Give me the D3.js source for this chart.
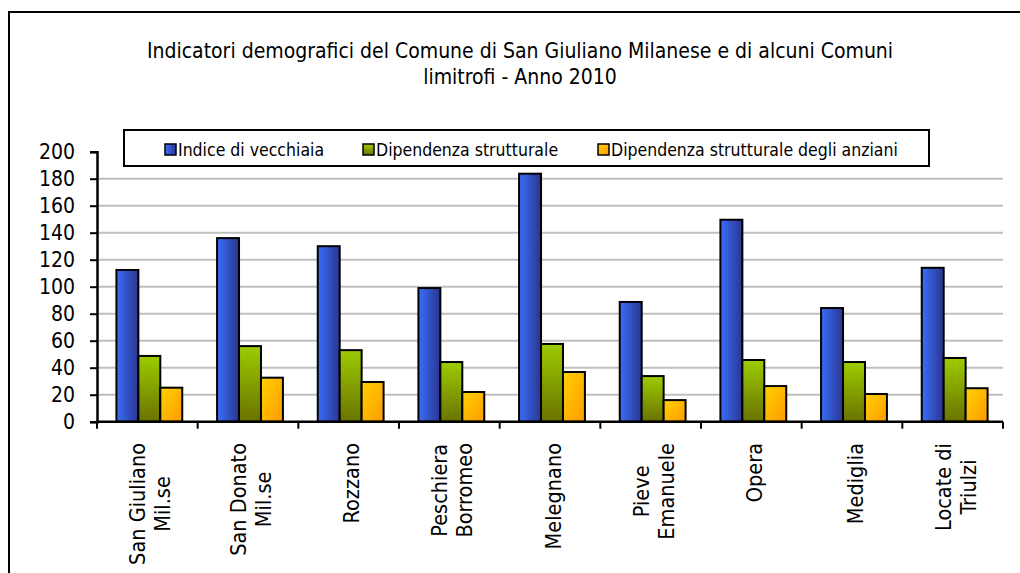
<!DOCTYPE html>
<html><head><meta charset="utf-8">
<script src="https://cdn.jsdelivr.net/npm/d3@7"></script>
<style>body{margin:0;background:#fff;} svg{display:block;}</style>
</head><body>
<svg id="c" width="1020" height="573"></svg>
<script>
const categories = [["San Giuliano","Mil.se"],["San Donato","Mil.se"],["Rozzano"],["Peschiera","Borromeo"],["Melegnano"],["Pieve","Emanuele"],["Opera"],["Mediglia"],["Locate di","Triulzi"]];
const seriesNames = ["Indice di vecchiaia","Dipendenza strutturale","Dipendenza strutturale degli anziani"];
const vecchiaia = [112.4,136,130,99,183.7,88.7,149.6,84.2,114];
const dipendenza = [48.7,56,53,44.2,57.6,33.8,45.7,44.2,47.2];
const dipAnziani = [25.2,32.6,29.4,22,36.8,16,26.4,20.5,24.8];
const yTicks = [0,20,40,60,80,100,120,140,160,180,200];
const titleLines = ["Indicatori demografici del Comune di San Giuliano Milanese e di alcuni Comuni","limitrofi - Anno 2010"];

(function(){
const series = [vecchiaia, dipendenza, dipAnziani];
const svg = d3.select("#c");
const defs = svg.append("defs");
const gB = defs.append("linearGradient").attr("id","gB").attr("x1","0").attr("x2","1").attr("y1","0").attr("y2","0");
gB.append("stop").attr("offset","0").attr("stop-color","#3a6ef8");
gB.append("stop").attr("offset","1").attr("stop-color","#2a3590");
const gG = defs.append("linearGradient").attr("id","gG").attr("x1","0").attr("x2","0").attr("y1","0").attr("y2","1");
gG.append("stop").attr("offset","0").attr("stop-color","#9ccc00");
gG.append("stop").attr("offset","1").attr("stop-color","#6a7200");
const gO = defs.append("linearGradient").attr("id","gO").attr("x1","0").attr("x2","1").attr("y1","0").attr("y2","1");
gO.append("stop").attr("offset","0").attr("stop-color","#ffd200");
gO.append("stop").attr("offset","1").attr("stop-color","#ff9a00");
const fills = ["url(#gB)","url(#gG)","url(#gO)"];

svg.append("rect").attr("x",9).attr("y",12).attr("width",1030).attr("height",600)
  .attr("fill","none").attr("stroke","#000").attr("stroke-width",2);

const fontMain = "'DejaVu Sans Condensed','DejaVu Sans',sans-serif";
const pLeft = 97, pRight = 1003, pTop = 151.7, pBottom = 421.7;
const x = d3.scaleBand().domain(d3.range(categories.length)).range([pLeft,pRight]);
const y = d3.scaleLinear().domain([0,200]).range([pBottom,pTop]);

svg.append("g").selectAll("text").data(titleLines).join("text")
  .attr("x",520).attr("y",(d,i)=>58+i*26).attr("text-anchor","middle")
  .attr("font-family",fontMain).attr("font-size",21).attr("fill","#000")
  .text(d=>d);

svg.append("g").selectAll("line").data(yTicks.filter(t=>t>0 && t<200)).join("line")
  .attr("x1",pLeft).attr("x2",pRight).attr("y1",d=>y(d)).attr("y2",d=>y(d))
  .attr("stroke","#c0c0c0").attr("stroke-width",2);

const bw = x.bandwidth()*0.218;
const g = svg.append("g");
series.forEach((vals,si)=>{
  g.selectAll(null).data(vals).join("rect")
    .attr("x",(d,i)=>x(i)+x.bandwidth()/2 - 1.5*bw + si*bw + 2)
    .attr("y",d=>y(d)).attr("width",bw).attr("height",d=>pBottom-y(d))
    .attr("fill",fills[si]).attr("stroke","#000").attr("stroke-width",2);
});

const yAxis = svg.append("g").attr("transform",`translate(${pLeft},0)`)
  .call(d3.axisLeft(y).tickValues(yTicks).tickSize(7).tickPadding(15));
yAxis.select(".domain").attr("stroke","#000").attr("stroke-width",2.5);
yAxis.selectAll(".tick line").attr("stroke","#000").attr("stroke-width",2);
yAxis.selectAll(".tick text").attr("font-family",fontMain).attr("font-size",21).attr("fill","#000");

const xEdges = d3.range(categories.length+1).map(i=> i<categories.length ? x(i) : pRight);
const xa = svg.append("g");
xa.append("line").attr("x1",pLeft).attr("x2",pRight).attr("y1",pBottom).attr("y2",pBottom)
  .attr("stroke","#000").attr("stroke-width",2.5);
xa.selectAll("line.t").data(xEdges).join("line").attr("class","t")
  .attr("x1",d=>d).attr("x2",d=>d).attr("y1",pBottom).attr("y2",pBottom+7)
  .attr("stroke","#000").attr("stroke-width",2);

const lblG = svg.append("g");
categories.forEach((lines,i)=>{
  const cx = x(i)+x.bandwidth()/2;
  const gg = lblG.append("g");
  const texts = gg.selectAll("text").data(lines).join("text")
    .attr("font-family",fontMain).attr("font-size",21.5).attr("fill","#000")
    .attr("text-anchor","middle").text(d=>d);
  let maxLen = 0;
  texts.each(function(){ maxLen = Math.max(maxLen,this.getComputedTextLength()); });
  const cy = Math.min(443 + maxLen/2, 568 - maxLen/2);
  const n = lines.length;
  texts.attr("transform",(d,j)=>{
    const lx = cx + (j-(n-1)/2)*25 + 10.5;
    return `translate(${lx},${cy}) rotate(-90)`;
  });
});

const lg = svg.append("g");
lg.append("rect").attr("x",124).attr("y",130).attr("width",805).attr("height",36)
  .attr("fill","#fff").attr("stroke","#000").attr("stroke-width",2);
const legX = [165,363,598];
seriesNames.forEach((nm,i)=>{
  lg.append("rect").attr("x",legX[i]).attr("y",144).attr("width",11).attr("height",11)
    .attr("fill",fills[i]).attr("stroke","#000").attr("stroke-width",1.5);
  lg.append("text").attr("x",legX[i]+13).attr("y",155.5).attr("font-family",fontMain)
    .attr("font-size",17.5).attr("fill","#000").text(nm);
});
})();
</script>
</body></html>
